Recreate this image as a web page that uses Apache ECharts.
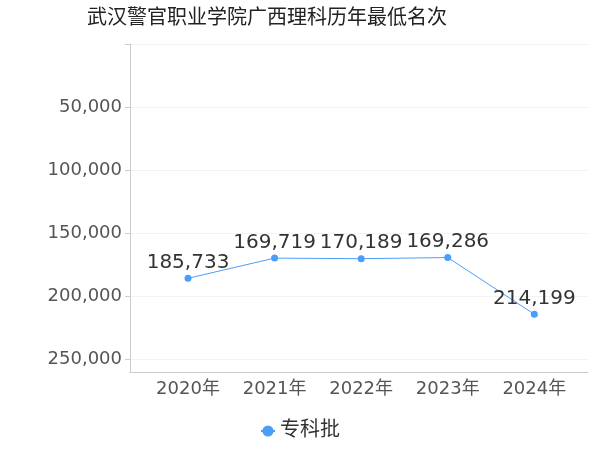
<!DOCTYPE html>
<html><head><meta charset="utf-8">
<script src="https://cdn.jsdelivr.net/npm/echarts@6/dist/echarts.min.js"></script>
<style>html,body{margin:0;padding:0}#c{width:600px;height:450px}</style>
</head><body><div id="c"></div>
<script>
const categories = ['2020年','2021年','2022年','2023年','2024年'];
const values = [185733, 169719, 170189, 169286, 214199];
const seriesName = '专科批';
const F = "'DejaVu Sans','Noto Sans CJK SC',sans-serif";
const chart = echarts.init(document.getElementById('c'));
chart.setOption({
  textStyle:{fontFamily:F},
  title:{text:'武汉警官职业学院广西理科历年最低名次',left:82,top:4,textStyle:{fontSize:20,fontWeight:'normal',color:'#222',fontFamily:F}},
  legend:{bottom:4,left:'center',itemWidth:14,textStyle:{fontSize:20,color:'#333',fontFamily:F},data:[seriesName]},
  grid:{left:130,right:12,top:44,bottom:78},
  xAxis:{type:'value',min:-0.67,max:4.62,
    axisLine:{show:true,onZero:false,lineStyle:{color:'#ccc'}},
    axisTick:{show:false},
    splitLine:{show:false},
    axisLabel:{customValues:[0,1,2,3,4],fontSize:18,color:'#555',fontFamily:F,formatter:v=>categories[Math.round(v)]}},
  yAxis:{type:'value',inverse:true,min:0,max:260000,interval:50000,
    axisLine:{show:true,onZero:false,lineStyle:{color:'#ccc'}},
    splitLine:{lineStyle:{color:'#f3f3f3'}},
    axisLabel:{fontSize:18,color:'#555',fontFamily:F,formatter:v=>v===0?'':v.toLocaleString('en-US')}},
  series:[{name:seriesName,type:'line',data:values.map((v,i)=>[i,v]),
    symbol:'circle',symbolSize:7,color:'#4a9ff5',lineStyle:{width:1},
    label:{show:true,position:'top',distance:2,fontSize:20,color:'#333',fontFamily:F,formatter:p=>p.value[1].toLocaleString('en-US')}}]
});
</script></body></html>
